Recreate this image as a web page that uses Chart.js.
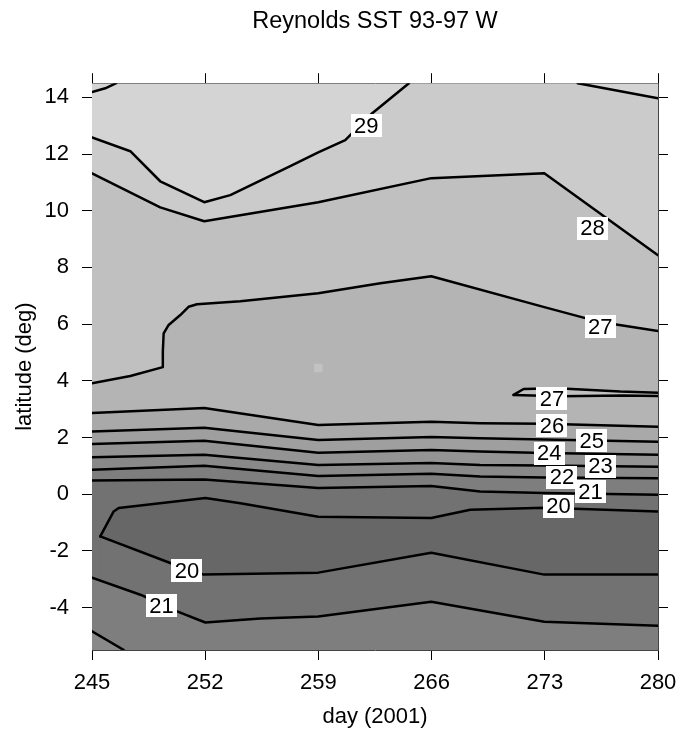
<!DOCTYPE html>
<html>
<head>
<meta charset="utf-8">
<script src="https://cdn.jsdelivr.net/npm/chart.js@4.4.1/dist/chart.umd.min.js"></script>
<style>
  html, body { margin: 0; padding: 0; background: #fff; }
</style>
</head>
<body>
<canvas id="sst_chart" width="681" height="732"></canvas>
<script>
const dayTicks = [245, 252, 259, 266, 273, 280];
const latTicks = [-4, -2, 0, 2, 4, 6, 8, 10, 12, 14];

// isotherms as [day, latitude] pairs
const iso29corner = [[245, 14.19], [245.82, 14.32], [246.5, 14.5]];
const iso29 = [[245, 12.59], [247.37, 12.10], [249.22, 11.04], [251.94, 10.30], [253.55, 10.55], [257.26, 11.57], [258.99, 12.06], [260.66, 12.49], [262.33, 13.44], [264.6, 14.5]];
const iso29edge = [[275.03, 14.5], [280, 13.97]];
const iso28 = [[245, 11.32], [249.22, 10.12], [251.94, 9.63], [258.99, 10.30], [265.98, 11.15], [272.97, 11.32], [280, 8.43]];
const iso27 = [[245, 3.91], [247.37, 4.17], [249.38, 4.48], [249.38, 5.03], [249.43, 5.67], [249.74, 5.97], [250.46, 6.32], [250.97, 6.61], [251.49, 6.70], [254.17, 6.81], [258.99, 7.09], [262.83, 7.44], [265.98, 7.69], [272.97, 6.60], [276.43, 6.07], [280, 5.76]];
const iso27loopTop = [[271.07, 3.50], [271.69, 3.71], [273.76, 3.74], [277.66, 3.62], [280, 3.58]];
const iso27loopBottom = [[271.07, 3.50], [273.96, 3.45], [277.84, 3.48], [280, 3.46]];
const iso26 = [[245, 2.86], [251.94, 3.04], [258.99, 2.44], [265.98, 2.55], [269.0, 2.50], [272.97, 2.48], [280, 2.38]];
const iso25 = [[245, 2.21], [251.94, 2.34], [258.99, 1.91], [265.98, 2.02], [269.0, 1.97], [272.97, 1.93], [280, 1.85]];
const iso24 = [[245, 1.77], [251.94, 1.88], [258.99, 1.46], [265.98, 1.56], [269.0, 1.50], [272.97, 1.45], [280, 1.39]];
const iso23 = [[245, 1.30], [251.94, 1.39], [258.99, 1.03], [265.98, 1.10], [269.0, 1.03], [272.97, 1.01], [280, 0.97]];
const iso22 = [[245, 0.86], [251.94, 1.00], [258.99, 0.64], [265.98, 0.72], [269.0, 0.62], [272.97, 0.59], [280, 0.56]];
const iso21 = [[245, 0.48], [251.94, 0.52], [258.99, 0.22], [265.98, 0.29], [269.0, 0.09], [272.97, 0.04], [280, -0.02]];
const iso20top = [[245.51, -1.49], [246.34, -0.61], [246.65, -0.49], [252.01, -0.14], [254.18, -0.32], [258.99, -0.80], [265.98, -0.84], [268.39, -0.55], [272.97, -0.48], [280, -0.61]];
const iso20bottom = [[245.51, -1.49], [249.84, -2.43], [251.90, -2.84], [258.99, -2.77], [265.98, -2.07], [272.97, -2.84], [280, -2.84]];
const iso21bottom = [[245, -2.95], [247.99, -3.55], [250.26, -4.14], [252.01, -4.53], [255.41, -4.39], [258.99, -4.32], [265.98, -3.80], [272.97, -4.50], [280, -4.64]];
const iso22corner = [[245, -4.84], [246.97, -5.5]];

// contour labels
const labelLevels = [29, 28, 27, 27, 26, 25, 24, 23, 22, 21, 20, 20, 21];
const labelDays = [261.96, 275.95, 276.43, 273.44, 273.44, 275.91, 273.28, 276.44, 274.07, 275.82, 273.84, 250.87, 249.29];
const labelLats = [13.0, 9.38, 5.90, 3.36, 2.41, 1.88, 1.44, 0.99, 0.59, 0.08, -0.42, -2.71, -3.93];

// a slightly warmer cell near the middle of the field
const warmCell = [[258.99, 4.45]];

const grays = ['#d4d4d4', '#cbcbcb', '#c0c0c0', '#b4b4b4', '#a9a9a9', '#9f9f9f',
               '#949494', '#898989', '#7e7e7e', '#727272', '#676767'];

const toXY = pts => pts.map(p => ({x: p[0], y: p[1]}));

// shaded bands: each layer is filled down to the bottom axis, painted top to bottom
let layer = 0;
function band(pts, color, fill) {
    layer++;
    return {
        data: toXY(pts),
        borderColor: 'transparent',
        borderWidth: 0,
        pointRadius: 0,
        backgroundColor: color,
        fill: fill === undefined ? 'start' : fill,
        order: 100 - layer
    };
}
function contour(pts) {
    return {
        data: toXY(pts),
        borderColor: '#000',
        borderWidth: 2.5,
        pointRadius: 0,
        fill: false,
        borderJoinStyle: 'round',
        borderCapStyle: 'round',
        order: 0
    };
}

const datasets = [
    band([[245, 14.5], [280, 14.5]], grays[0]),
    band([...iso29, ...iso29edge], grays[1]),
    band(iso28, grays[2]),
    band(iso27, grays[3]),
    band(iso27loopTop, grays[2], '+1'),
    band(iso27loopBottom, 'transparent', false),
    band(iso26, grays[4]),
    band(iso25, grays[5]),
    band(iso24, grays[6]),
    band(iso23, grays[7]),
    band(iso22, grays[8]),
    band(iso21, grays[9]),
    band(iso20top, grays[10]),
    band(iso20bottom, grays[9]),
    band(iso21bottom, grays[8]),
    band(iso22corner, grays[7]),
    {
        data: toXY(warmCell),
        showLine: false,
        pointStyle: 'rect',
        pointRadius: 6,
        pointBackgroundColor: 'rgba(200,200,200,0.7)',
        pointBorderWidth: 0,
        order: 1
    },
    contour(iso29corner),
    contour(iso29),
    contour(iso29edge),
    contour(iso28),
    contour(iso27),
    contour(iso27loopTop),
    contour(iso27loopBottom),
    contour(iso26),
    contour(iso25),
    contour(iso24),
    contour(iso23),
    contour(iso22),
    contour(iso21),
    contour(iso20top),
    contour(iso20bottom),
    contour(iso21bottom),
    contour(iso22corner)
];

// white boxed level labels sitting on the contour lines
const contourLabels = {
    id: 'contourLabels',
    afterDatasetsDraw(chart) {
        const {ctx, scales: {x, y}} = chart;
        ctx.save();
        ctx.font = '22px "Liberation Sans", Arial, sans-serif';
        ctx.textAlign = 'center';
        ctx.textBaseline = 'middle';
        labelLevels.forEach((lvl, i) => {
            const px = x.getPixelForValue(labelDays[i]);
            const py = y.getPixelForValue(labelLats[i]);
            const txt = String(lvl);
            const w = ctx.measureText(txt).width + 7;
            const h = 23;
            ctx.fillStyle = '#fff';
            ctx.fillRect(Math.round(px - w / 2), Math.round(py - h / 2), Math.round(w), h);
            ctx.fillStyle = '#000';
            ctx.fillText(txt, px, py + 1);
        });
        ctx.restore();
    }
};

const axisFont = {family: '"Liberation Sans", Arial, sans-serif', size: 22};
const tickGrid = {drawOnChartArea: false, drawTicks: true, tickLength: 10, color: '#000', lineWidth: 1};
const frame = {display: true, color: '#444', width: 1};

function fitX(h) {
    return s => { s.height = h; s.paddingLeft = 0; s.paddingRight = 0; };
}
function fitY(w) {
    return s => { s.width = w; s.paddingTop = 0; s.paddingBottom = 0; };
}

const config = {
    type: 'line',
    data: {datasets: datasets},
    options: {
        responsive: false,
        animation: false,
        devicePixelRatio: 1,
        layout: {padding: 0},
        plugins: {
            legend: {display: false},
            tooltip: {enabled: false},
            title: {
                display: true,
                text: 'Reynolds SST 93-97 W',
                fullSize: false,
                color: '#000',
                font: {family: axisFont.family, size: 23.5, weight: 'normal'},
                padding: {top: 7, bottom: 36}
            }
        },
        scales: {
            x: {
                type: 'linear',
                position: 'bottom',
                min: 245,
                max: 280,
                afterBuildTicks: s => { s.ticks = dayTicks.map(v => ({value: v})); },
                afterFit: fitX(82),
                ticks: {color: '#000', font: axisFont, padding: 10, maxRotation: 0},
                grid: tickGrid,
                border: frame,
                title: {display: true, text: 'day (2001)', color: '#000', font: axisFont, padding: {top: 0, bottom: 2}}
            },
            x2: {
                type: 'linear',
                position: 'top',
                min: 245,
                max: 280,
                afterBuildTicks: s => { s.ticks = dayTicks.map(v => ({value: v})); },
                afterFit: fitX(12),
                ticks: {display: false},
                grid: tickGrid,
                border: frame
            },
            y: {
                type: 'linear',
                position: 'left',
                min: -5.5,
                max: 14.5,
                afterBuildTicks: s => { s.ticks = latTicks.map(v => ({value: v})); },
                afterFit: fitY(92),
                ticks: {color: '#000', font: axisFont, padding: 13},
                grid: tickGrid,
                border: frame,
                title: {display: true, text: 'latitude (deg)', color: '#000', font: axisFont, padding: {top: 12, bottom: 0}}
            },
            y2: {
                type: 'linear',
                position: 'right',
                min: -5.5,
                max: 14.5,
                afterBuildTicks: s => { s.ticks = latTicks.map(v => ({value: v})); },
                afterFit: fitY(23),
                ticks: {display: false},
                grid: tickGrid,
                border: frame
            }
        }
    },
    plugins: [contourLabels]
};

const sstChart = new Chart(document.getElementById('sst_chart'), config);
</script>
</body>
</html>
